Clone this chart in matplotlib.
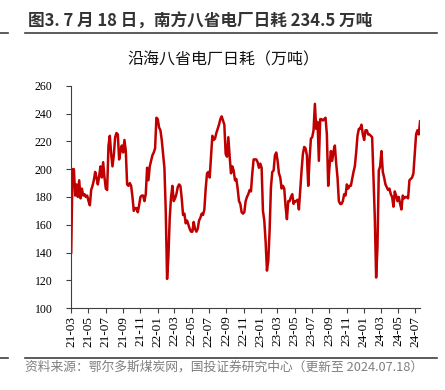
import matplotlib
matplotlib.use("Agg")
import matplotlib.pyplot as plt
import pandas as pd

plt.rcParams['font.family'] = ['Noto Sans CJK SC', 'DejaVu Sans']

# 沿海八省电厂日耗（万吨），2021-03 ~ 2024-07-18
start_date = "2021-03-01"
end_date = "2024-07-18"
values = [
    140, 200, 200, 181, 189, 180, 192, 179, 186, 181, 182, 180, 181, 177, 174, 185,
    188, 192, 198, 194, 189, 195, 202, 194, 205, 194, 186, 185, 217, 224, 211, 202,
    210, 223, 226, 225, 207, 213, 217, 212, 221, 213, 189, 188, 190, 188, 180, 170,
    172, 172, 169, 174, 180, 181, 181, 177, 182, 201, 192, 202, 206, 210, 212, 215,
    237, 236, 230, 228, 221, 211, 201, 170, 121, 137, 165, 180, 188, 177, 179, 182,
    187, 189, 188, 179, 167, 168, 161, 163, 160, 157, 155, 155, 162, 157, 155, 157,
    163,
    165, 168, 167, 171, 186, 197, 198, 194, 209, 224, 221, 222, 226, 229, 232, 236,
    238, 235, 232, 211, 209, 223, 209, 197, 202, 199, 192, 193, 186, 177, 175, 169,
    168, 169, 177, 180, 182, 185, 184, 197, 207, 207, 207, 205, 201, 204, 201, 170,
    163, 148, 127, 134, 156, 187, 198, 199, 210, 212, 206, 197, 194, 186, 188, 186,
    173, 164, 177, 177, 180, 182, 175, 177, 177, 178, 171, 185, 199, 211, 216, 215,
    210, 188, 207, 222, 223, 228, 247, 229, 234, 206, 236, 236, 235, 236, 237, 225,
    188, 202, 213, 206, 213, 217, 204, 194, 177, 175, 175, 177, 182, 181, 189, 186,
    188, 188, 193, 198, 202, 212, 224, 229, 229, 232, 225, 221, 228, 228, 225, 225,
    224, 223, 194, 165, 122, 144, 199, 202, 213, 198, 194, 189, 187, 185, 186, 182,
    180, 173, 184, 181, 177, 180, 175, 171, 181, 179, 180, 180, 179, 192, 193, 194,
    197, 211, 225, 228, 225, 234.5,
]
dates = pd.date_range(start_date, end_date, periods=len(values))

tick_dates = pd.date_range("2021-03-01", "2024-07-01", freq="2MS")
tick_labels = [d.strftime("%y-%m") for d in tick_dates]

fig = plt.figure(figsize=(4.45, 3.9), dpi=100)
ax = fig.add_axes([0.16, 0.21, 0.784, 0.57])

ax.plot(dates, values, color="#C00000", linewidth=1.8)

ax.set_ylim(100, 260)
ax.set_yticks(range(100, 261, 20))
ax.set_xlim(pd.Timestamp("2021-03-01"), pd.Timestamp("2024-07-18"))
ax.set_xticks(tick_dates)
ax.set_xticklabels(tick_labels, rotation=90, family="Liberation Serif", fontsize=9.5)
for lab in ax.get_yticklabels():
    lab.set_family("Liberation Serif")
    lab.set_fontsize(8.5)

for s in ["top", "right"]:
    ax.spines[s].set_visible(False)
ax.spines["left"].set_color("#404040")
ax.spines["bottom"].set_color("#404040")
ax.tick_params(axis="both", direction="out", length=3.5, color="#404040")
ax.tick_params(axis="y", pad=10)
ax.tick_params(axis="x", pad=2)

fig.text(0.062, 0.945, "图3. 7 月 18 日，南方八省电厂日耗 234.5 万吨",
         fontsize=12, fontweight="bold", color="#333333", va="center")
fig.text(0.502, 0.846, "沿海八省电厂日耗（万吨）", fontsize=11.5,
         ha="center", va="center", color="#111111")
fig.text(0.056, 0.058, "资料来源：鄂尔多斯煤炭网，国投证券研究中心（更新至 2024.07.18）",
         fontsize=9.2, color="#7f7f7f", va="center", style="italic")

# 标题/来源分隔线
for yy in [0.915, 0.082]:
    fig.add_artist(plt.Line2D([0.056, 0.982], [yy, yy], color="#404040", linewidth=1.2))
    fig.add_artist(plt.Line2D([0.0, 0.018], [yy, yy], color="#404040", linewidth=1.2))

fig.savefig("out.png", dpi=100)
